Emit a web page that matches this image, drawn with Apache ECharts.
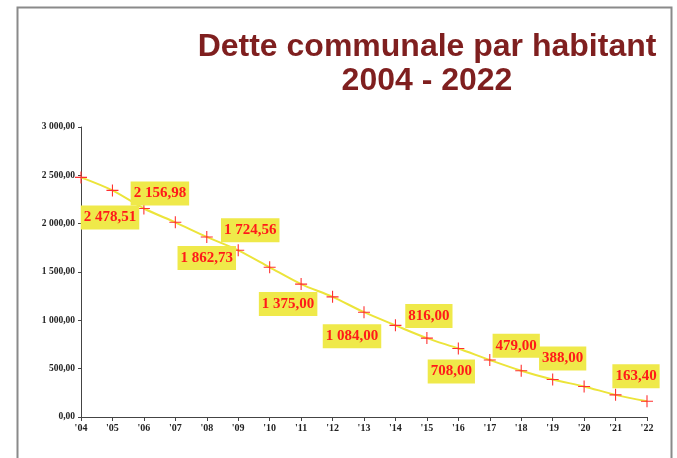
<!DOCTYPE html>
<html><head><meta charset="utf-8">
<script src="https://cdn.jsdelivr.net/npm/echarts@6/dist/echarts.min.js"></script>
<style>html,body{margin:0;padding:0;background:#fff}#c{width:677px;height:458px}</style>
</head><body><div id="c"></div>
<script>
var categories = ["'04","'05","'06","'07","'08","'09","'10","'11","'12","'13","'14","'15","'16","'17","'18","'19","'20","'21","'22"];
var debtPerInhabitant = [2478.51, 2344, 2156.98, 2014, 1862.73, 1724.56, 1549, 1375, 1243, 1084, 948, 816, 708, 590, 479, 388, 316, 229, 163.40];
var labelledIndices = [0, 2, 4, 5, 7, 9, 11, 12, 14, 15, 18];
var yTicks = [0, 500, 1000, 1500, 2000, 2500, 3000];

// label placement (layout only)
var labelOffsets = {0:[29,40],2:[16,-15],4:[0,21],5:[12,-20],7:[-13,20],9:[-12,24],11:[2,-22],12:[-7,23],14:[-5,-25],15:[10,-21],18:[-11,-25]};

function fr(v){
  var s = v.toFixed(2).split('.');
  var i = s[0].replace(/\B(?=(\d{3})+(?!\d))/g, ' ');
  return i + ',' + s[1];
}

var seriesData = debtPerInhabitant.map(function(v, i){
  var item = {value: v};
  if (labelledIndices.indexOf(i) >= 0) {
    item.label = {show: true, position: 'inside', offset: labelOffsets[i]};
  }
  return item;
});

var chart = echarts.init(document.getElementById('c'), null, {renderer:'canvas'});
chart.setOption({
  animation: false,
  backgroundColor: '#fff',
  graphic: [{
    type: 'rect', left: 15, top: 5, silent: true,
    shape: {width: 654, height: 470},
    style: {fill: 'none', stroke: '#8a8a8a', lineWidth: 2}
  }],
  title: {
    text: 'Dette communale par habitant\n2004 - 2022',
    left: 422, top: 25, textAlign: 'center',
    textStyle: {fontFamily: 'Liberation Sans', fontWeight: 'bold', fontSize: 32, color: '#7f1f1f', lineHeight: 34}
  },
  grid: {left: 81, right: 30, top: 127, bottom: 41},
  xAxis: {
    type: 'category', data: categories, boundaryGap: false,
    axisLine: {lineStyle: {color: '#444', width: 1}},
    axisTick: {show: true, length: 4, lineStyle: {color: '#444'}},
    axisLabel: {fontFamily: 'Liberation Serif', fontWeight: 'bold', fontSize: 10, color: '#222', margin: 6, interval: 0}
  },
  yAxis: {
    type: 'value', min: 0, max: 3000, interval: 500,
    axisLine: {show: true, lineStyle: {color: '#444', width: 1}},
    axisTick: {show: true, length: 3, lineStyle: {color: '#444'}},
    splitLine: {show: false},
    axisLabel: {fontFamily: 'Liberation Serif', fontWeight: 'bold', fontSize: 9.5, color: '#222', margin: 6,
      formatter: function(v){ return fr(v); }}
  },
  series: [{
    type: 'line',
    data: seriesData,
    smooth: 0.3,
    lineStyle: {color: '#ece43a', width: 2},
    symbol: 'path://M5,0h1v5h5v1h-5v5h-1v-5h-5v-1h5z',
    symbolSize: 12,
    itemStyle: {color: '#ff3030'},
    z: 3,
    label: {
      show: false,
      formatter: function(p){ return fr(p.value); },
      fontFamily: 'Liberation Serif', fontWeight: 'bold', fontSize: 15, color: '#ff1a1a',
      backgroundColor: '#efe94a', padding: [5, 3, 4, 3]
    }
  }]
});
</script></body></html>
